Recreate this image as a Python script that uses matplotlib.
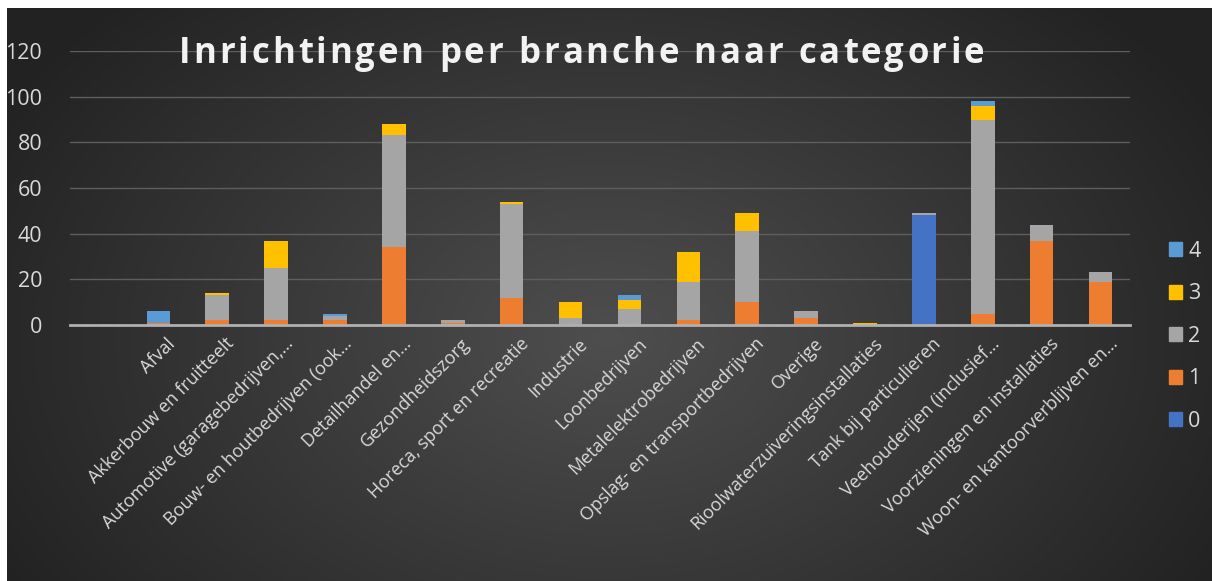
import numpy as np
import matplotlib
matplotlib.use("Agg")
import matplotlib.pyplot as plt
import matplotlib.transforms as mtransforms
from matplotlib.patches import Patch

plt.rcParams['font.family'] = ['Open Sans', 'DejaVu Sans']

# branches (first slot is an empty category in the source sheet)
branches = ["", "Afval", "Akkerbouw en fruitteelt", "Automotive (garagebedrijven,…",
            "Bouw- en houtbedrijven (ook…", "Detailhandel en…", "Gezondheidszorg",
            "Horeca, sport en recreatie", "Industrie", "Loonbedrijven",
            "Metalelektrobedrijven", "Opslag- en transportbedrijven", "Overige",
            "Rioolwaterzuiveringsinstallaties", "Tank bij particulieren",
            "Veehouderijen (inclusief…", "Voorzieningen en installaties",
            "Woon- en kantoorverblijven en…"]

cat0 = [0, 0, 0, 0, 0, 0, 0, 0, 0, 0, 0, 0, 0, 0, 48, 0, 0, 0]
cat1 = [0, 1, 2, 2, 2, 34, 1, 12, 0, 0, 2, 10, 3, 0, 0, 5, 37, 19]
cat2 = [0, 0, 11, 23, 2, 49, 1, 41, 3, 7, 17, 31, 3, 0, 1, 85, 7, 4]
cat3 = [0, 0, 1, 12, 0, 5, 0, 1, 7, 4, 13, 8, 0, 1, 0, 6, 0, 0]
cat4 = [0, 5, 0, 0, 1, 0, 0, 0, 0, 2, 0, 0, 0, 0, 0, 2, 0, 0]

series = [("0", cat0, "#4472C4"), ("1", cat1, "#ED7D31"), ("2", cat2, "#A5A5A5"),
          ("3", cat3, "#FFC000"), ("4", cat4, "#5B9BD5")]

title = "Inrichtingen per branche naar categorie"

W, H = 1212, 581
fig = plt.figure(figsize=(W / 100, H / 100), dpi=100, facecolor="white")

# dark radial background of the chart area
bg = fig.add_axes([7 / W, 0, 1 - 7 / W, 573 / H])
bg.set_axis_off()
yy, xx = np.mgrid[0:573, 0:1205]
r = np.sqrt(((xx - 600) / 700.0) ** 2 + ((yy - 330) / 480.0) ** 2)
r = np.clip(r, 0, 1)
c0 = np.array([0x4e, 0x4e, 0x4e]) / 255.0
c1 = np.array([0x22, 0x22, 0x22]) / 255.0
img = c0[None, None, :] * (1 - r[..., None]) + c1[None, None, :] * r[..., None]
bg.imshow(img, aspect="auto", extent=[0, 1, 0, 1])
bg.set_xlim(0, 1)
bg.set_ylim(0, 1)

ax = fig.add_axes([70 / W, 1 - 325 / H, 1060 / W, (325 - 51) / H])
ax.set_facecolor("none")

x = np.arange(len(branches))
bottom = np.zeros(len(branches))
for name, vals, col in series:
    v = np.array(vals, dtype=float)
    ax.bar(x, v, width=0.4, bottom=bottom, color=col, label=name, zorder=3)
    bottom += v

ax.set_xlim(-0.5, len(branches) - 0.5)
ax.set_ylim(0, 120)
ax.set_yticks(range(0, 121, 20))
ax.yaxis.grid(True, color="#5e5e5e", linewidth=1.0, zorder=0)
ax.set_axisbelow(True)
for s in ["top", "right", "left"]:
    ax.spines[s].set_visible(False)
ax.spines["bottom"].set_color("#b0b0b0")
ax.spines["bottom"].set_linewidth(2)
ax.spines["bottom"].set_zorder(4)
ax.tick_params(axis="both", length=0)
ax.tick_params(axis="y", labelsize=15.5, labelcolor="#d9d9d9", pad=20)
ax.set_xticks(x)
ax.set_xticklabels(branches, rotation=45, ha="right", va="top",
                   rotation_mode="anchor", fontsize=13, color="#d9d9d9")
ax.tick_params(axis="x", pad=7)
shift = mtransforms.ScaledTranslation(8 / 100, 0, fig.dpi_scale_trans)
for lab in ax.get_xticklabels():
    lab.set_transform(lab.get_transform() + shift)

# title with letter spacing, drawn char by char
rend = fig.canvas.get_renderer()
tkw = dict(fontsize=25, fontweight="bold", color="#f2f2f2")

def text_w(s):
    t = fig.text(0, 0, s + "x", **tkw)
    w = t.get_window_extent(rend).width
    t.remove()
    t = fig.text(0, 0, "x", **tkw)
    w -= t.get_window_extent(rend).width
    t.remove()
    return w

spacing = 3.0
total = text_w(title) + spacing * (len(title) - 1)
x0 = 581 - total / 2
for i, ch in enumerate(title):
    if ch == " ":
        continue
    px = x0 + text_w(title[:i]) + spacing * i
    fig.text(px / W, 1 - 54 / H, ch, ha="left", va="center", **tkw)

handles = [Patch(color=col) for _, _, col in series][::-1]
labels = [name for name, _, _ in series][::-1]
fig.legend(handles, labels, loc="upper left", bbox_to_anchor=(1158 / W, 1 - 230 / H),
           frameon=False, fontsize=15.5, labelcolor="#d9d9d9", handlelength=0.6,
           handleheight=0.6, handletextpad=0.3, labelspacing=1.0, borderpad=0)

fig.savefig("out.png", dpi=100, facecolor="white")
